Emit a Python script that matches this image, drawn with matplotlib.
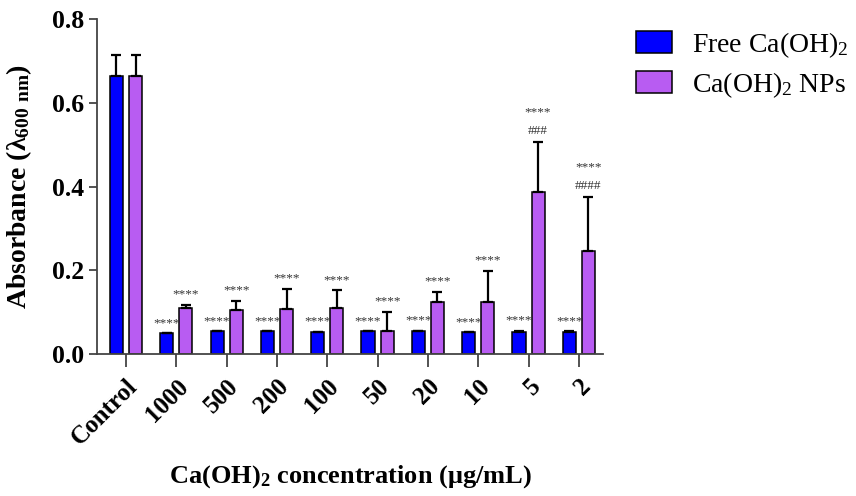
import matplotlib
matplotlib.use("Agg")
import matplotlib.pyplot as plt
import numpy as np

# ---------------------------------------------------------------------------
# Data
# ---------------------------------------------------------------------------
categories = ["Control", "1000", "500", "200", "100", "50", "20", "10", "5", "2"]

free_mean = [0.665, 0.049, 0.054, 0.054, 0.053, 0.054, 0.056, 0.0525, 0.0525, 0.052]
free_err = [0.048, 0.0, 0.0, 0.0, 0.0, 0.0, 0.0, 0.0, 0.003, 0.002]

nps_mean = [0.665, 0.109, 0.105, 0.107, 0.111, 0.054, 0.123, 0.123, 0.388, 0.246]
nps_err = [0.048, 0.009, 0.022, 0.048, 0.041, 0.047, 0.025, 0.075, 0.118, 0.129]

free_stars = ["", "****", "****", "****", "****", "****", "****", "****", "****", "****"]
nps_stars = ["", "****", "****", "****", "****", "****", "****", "****", "****", "****"]
nps_hash = ["", "", "", "", "", "", "", "", "###", "####"]

# ---------------------------------------------------------------------------
# Styling
# ---------------------------------------------------------------------------
plt.rcParams["font.family"] = ["Liberation Serif", "DejaVu Serif"]
plt.rcParams["mathtext.default"] = "regular"

BLUE = "#0000FF"
PURPLE = "#B85CF2"
AXIS_C = "#444444"
MARK_C = "#333333"

fig = plt.figure(figsize=(8.56, 4.96), dpi=100)
ax = fig.add_axes([97 / 856, 1 - 354 / 496, (603 - 97) / 856, (354 - 19) / 496])

x = np.arange(len(categories))
w = 0.26
off = 0.19
ekw = {"elinewidth": 1.6, "capthick": 1.6}

ax.bar(x - off, free_mean, w, color=BLUE, edgecolor="black", linewidth=1.1,
       yerr=[np.zeros(len(free_err)), free_err], capsize=3.5, error_kw=ekw,
       label="Free Ca(OH)$_2$", zorder=2)
ax.bar(x + off, nps_mean, w, color=PURPLE, edgecolor="black", linewidth=1.1,
       yerr=[np.zeros(len(nps_err)), nps_err], capsize=3.5, error_kw=ekw,
       label="Ca(OH)$_2$ NPs", zorder=2)

# significance marks
for i in range(len(categories)):
    top_f = free_mean[i] + free_err[i]
    top_n = nps_mean[i] + nps_err[i]
    if free_stars[i]:
        ax.text(x[i] - off, top_f + 0.024, free_stars[i], ha="center", va="center",
                fontsize=9.5, color=MARK_C)
    if nps_hash[i]:
        ax.text(x[i] + off, top_n + 0.026, nps_hash[i], ha="center", va="center",
                fontsize=9.5, color=MARK_C)
        ax.text(x[i] + off, top_n + 0.071, nps_stars[i], ha="center", va="center",
                fontsize=9.5, color=MARK_C)
    elif nps_stars[i]:
        ax.text(x[i] + off, top_n + 0.025, nps_stars[i], ha="center", va="center",
                fontsize=9.5, color=MARK_C)

ax.set_xlim(-0.577, 9.48)
ax.set_ylim(0, 0.8)
ax.set_yticks([0.0, 0.2, 0.4, 0.6, 0.8])
ax.yaxis.set_major_formatter(matplotlib.ticker.FormatStrFormatter("%.1f"))
ax.set_xticks(x)
ax.set_xticklabels(categories, rotation=45, ha="right", rotation_mode="anchor",
                   fontsize=18, fontweight="bold")
for t in ax.get_yticklabels():
    t.set_fontsize(18.5)
    t.set_fontweight("bold")

ax.spines["top"].set_visible(False)
ax.spines["right"].set_visible(False)
for side in ("left", "bottom"):
    ax.spines[side].set_color(AXIS_C)
    ax.spines[side].set_linewidth(1.3)
ax.tick_params(axis="y", direction="out", color=AXIS_C, width=1.3, length=6, pad=3)
ax.tick_params(axis="x", direction="out", color=AXIS_C, width=1.3, length=9, pad=6)

ax.set_ylabel("Absorbance (λ$_{600\\ nm}$)", fontsize=20, fontweight="bold")
ax.yaxis.set_label_coords(-0.124, 0.5)
ax.set_xlabel("Ca(OH)$_2$ concentration (μg/mL)", fontsize=19, fontweight="bold",
              labelpad=10)

fig.legend(loc="upper left", bbox_to_anchor=(636 / 856, 1 - 30 / 496),
           frameon=False, fontsize=20, handlelength=1.3, handleheight=0.85,
           handletextpad=0.7, labelspacing=0.36, borderpad=0, borderaxespad=0)

fig.savefig("out.png", dpi=100, facecolor="white")
